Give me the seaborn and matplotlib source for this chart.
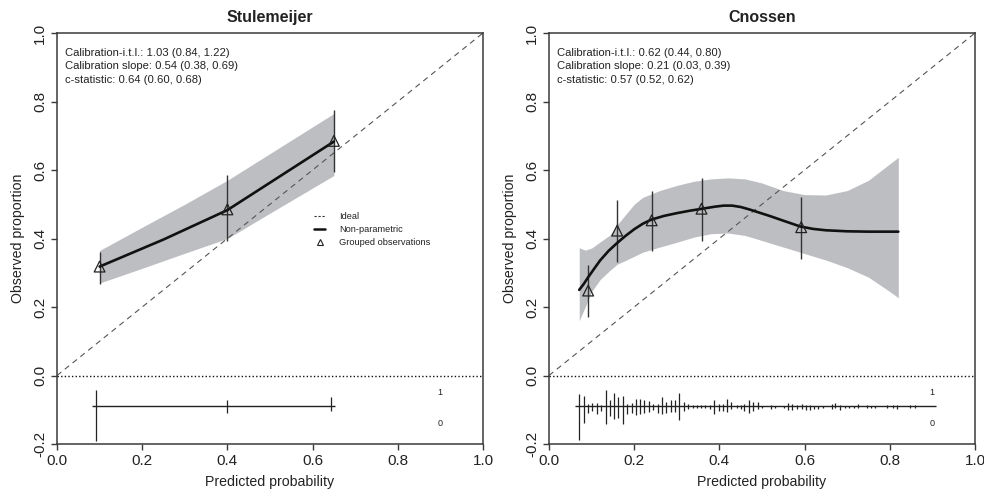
import numpy as np
import pandas as pd
import matplotlib
matplotlib.use("Agg")
import matplotlib.pyplot as plt
import seaborn as sns
from matplotlib.lines import Line2D

# ---------------- data ----------------
titles = ["Stulemeijer", "Cnossen"]
stats_L = ["Calibration-i.t.l.: 1.03 (0.84, 1.22)",
           "Calibration slope: 0.54 (0.38, 0.69)",
           "c-statistic: 0.64 (0.60, 0.68)"]
stats_R = ["Calibration-i.t.l.: 0.62 (0.44, 0.80)",
           "Calibration slope: 0.21 (0.03, 0.39)",
           "c-statistic: 0.57 (0.52, 0.62)"]

# Stulemeijer
curve_x_L = [0.10, 0.25, 0.40, 0.65]
curve_y_L = [0.318, 0.397, 0.483, 0.683]
band_x_L = [0.10, 0.20, 0.30, 0.40, 0.50, 0.65]
band_lo_L = [0.270, 0.313, 0.357, 0.400, 0.474, 0.584]
band_hi_L = [0.365, 0.433, 0.500, 0.570, 0.648, 0.765]
grp_x_L = [0.10, 0.40, 0.65]
grp_y_L = [0.318, 0.485, 0.685]
grp_lo_L = [0.268, 0.392, 0.593]
grp_hi_L = [0.360, 0.584, 0.776]
rug_x_L = [0.092, 0.400, 0.643]
rug_one_L = [0.047, 0.018, 0.029]
rug_zero_L = [0.101, 0.020, 0.014]
rug_span_L = [0.082, 0.653]

# Cnossen
curve_x_R = [0.071, 0.082, 0.092, 0.105, 0.12, 0.14, 0.16, 0.18, 0.20, 0.22,
             0.24, 0.27, 0.30, 0.33, 0.36, 0.39, 0.41, 0.43, 0.45, 0.47,
             0.49, 0.52, 0.55, 0.59, 0.62, 0.65, 0.70, 0.75, 0.82]
curve_y_R = [0.250, 0.268, 0.287, 0.310, 0.336, 0.364, 0.387, 0.408, 0.427,
             0.443, 0.455, 0.466, 0.474, 0.481, 0.487, 0.493, 0.496, 0.496,
             0.492, 0.485, 0.477, 0.465, 0.452, 0.435, 0.428, 0.424, 0.421,
             0.420, 0.420]
band_x_R = [0.071, 0.085, 0.10, 0.12, 0.143, 0.16, 0.18, 0.20, 0.22, 0.26,
            0.30, 0.34, 0.38, 0.42, 0.46, 0.50, 0.55, 0.60, 0.65, 0.70,
            0.75, 0.80, 0.82]
band_hi_R = [0.373, 0.366, 0.372, 0.390, 0.410, 0.440, 0.470, 0.500, 0.520,
             0.540, 0.555, 0.567, 0.574, 0.577, 0.574, 0.562, 0.540, 0.528,
             0.527, 0.540, 0.570, 0.618, 0.637]
band_lo_R = [0.160, 0.200, 0.245, 0.280, 0.307, 0.325, 0.336, 0.348, 0.360,
             0.375, 0.389, 0.404, 0.414, 0.416, 0.409, 0.394, 0.375, 0.356,
             0.337, 0.315, 0.287, 0.245, 0.227]
grp_x_R = [0.092, 0.160, 0.241, 0.358, 0.592]
grp_y_R = [0.248, 0.423, 0.453, 0.487, 0.433]
grp_lo_R = [0.170, 0.331, 0.363, 0.394, 0.341]
grp_hi_R = [0.324, 0.511, 0.540, 0.577, 0.520]
rug_x_R = [0.071, 0.082, 0.092, 0.102, 0.112, 0.122, 0.133, 0.143, 0.153,
           0.163, 0.173, 0.184, 0.194, 0.204, 0.214, 0.224, 0.235, 0.245,
           0.255, 0.265, 0.275, 0.286, 0.296, 0.306, 0.316, 0.326, 0.337,
           0.347, 0.357, 0.367, 0.377, 0.388, 0.398, 0.408, 0.418, 0.428,
           0.441, 0.451, 0.458, 0.469, 0.480, 0.490, 0.500, 0.520, 0.531,
           0.552, 0.562, 0.571, 0.582, 0.593, 0.603, 0.613, 0.623, 0.632,
           0.644, 0.664, 0.671, 0.683, 0.695, 0.705, 0.716, 0.726, 0.746,
           0.755, 0.765, 0.794, 0.807, 0.818, 0.847, 0.859]
rug_one_R = [0.037, 0.032, 0.008, 0.010, 0.010, 0.005, 0.047, 0.018, 0.039,
             0.029, 0.032, 0.008, 0.010, 0.022, 0.022, 0.018, 0.015, 0.008,
             0.008, 0.027, 0.013, 0.018, 0.018, 0.039, 0.013, 0.006, 0.003,
             0.003, 0.003, 0.003, 0.004, 0.018, 0.008, 0.008, 0.022, 0.013,
             0.004, 0.004, 0.007, 0.019, 0.012, 0.012, 0.002, 0.004, 0.002,
             0.002, 0.010, 0.006, 0.004, 0.007, 0.004, 0.004, 0.002, 0.002,
             0.002, 0.007, 0.010, 0.004, 0.002, 0.002, 0.002, 0.006, 0.004,
             0.002, 0.002, 0.004, 0.004, 0.004, 0.004, 0.004]
rug_zero_R = [0.099, 0.049, 0.019, 0.012, 0.021, 0.012, 0.051, 0.029, 0.036,
              0.033, 0.051, 0.021, 0.019, 0.024, 0.021, 0.019, 0.015, 0.010,
              0.019, 0.023, 0.019, 0.017, 0.015, 0.039, 0.014, 0.007, 0.004,
              0.004, 0.004, 0.004, 0.006, 0.021, 0.012, 0.014, 0.015, 0.007,
              0.004, 0.008, 0.013, 0.018, 0.013, 0.008, 0.003, 0.006, 0.004,
              0.003, 0.010, 0.010, 0.008, 0.006, 0.010, 0.010, 0.008, 0.006,
              0.003, 0.006, 0.004, 0.010, 0.004, 0.004, 0.004, 0.004, 0.004,
              0.004, 0.005, 0.004, 0.004, 0.008, 0.004, 0.004]
rug_span_R = [0.062, 0.908]

xticks = [0.0, 0.2, 0.4, 0.6, 0.8, 1.0]
yticks = [-0.2, 0.0, 0.2, 0.4, 0.6, 0.8, 1.0]
tick_labels_x = ["0.0", "0.2", "0.4", "0.6", "0.8", "1.0"]
tick_labels_y = ["-0.2", "0.0", "0.2", "0.4", "0.6", "0.8", "1.0"]
legend_labels = ["Ideal", "Non-parametric", "Grouped observations"]

# ---------------- style ----------------
sns.set_theme(style="white")
plt.rcParams['font.family'] = ['Liberation Sans', 'DejaVu Sans']
plt.rcParams['text.color'] = '#222222'
plt.rcParams['axes.labelcolor'] = '#222222'

BAND = '#bdbec1'
EDGE = '#3a3a3a'

fig = plt.figure(figsize=(9.84, 4.92), dpi=100)
W, H = 984, 492
axL = fig.add_axes([57 / W, 1 - 444 / H, 426 / W, 411 / H])
axR = fig.add_axes([549 / W, 1 - 444 / H, 426 / W, 411 / H])

panels = [
    (axL, titles[0], stats_L, curve_x_L, curve_y_L, band_x_L, band_lo_L, band_hi_L,
     grp_x_L, grp_y_L, grp_lo_L, grp_hi_L, rug_x_L, rug_one_L, rug_zero_L, rug_span_L),
    (axR, titles[1], stats_R, curve_x_R, curve_y_R, band_x_R, band_lo_R, band_hi_R,
     grp_x_R, grp_y_R, grp_lo_R, grp_hi_R, rug_x_R, rug_one_R, rug_zero_R, rug_span_R),
]

rug_base = -0.0905
for (ax, title, stats, cx, cy, bx, blo, bhi, gx, gy, glo, ghi,
     rx, r1, r0, rspan) in panels:
    ax.fill_between(bx, blo, bhi, color=BAND, lw=0, zorder=1)
    ax.plot([0, 1], [0, 1], color='#555555', lw=0.8, ls=(0, (5, 4)), zorder=2)
    ax.axhline(0, color='#111111', lw=1.0, ls=(0, (1, 1.6)), zorder=2)
    df = pd.DataFrame({"x": cx, "y": cy})
    sns.lineplot(data=df, x="x", y="y", ax=ax, color='#111111', lw=1.9,
                 sort=False, zorder=4)
    ax.vlines(gx, glo, ghi, color='#333333', lw=1.0, zorder=3)
    gdf = pd.DataFrame({"x": gx, "y": gy})
    sns.scatterplot(data=gdf, x="x", y="y", ax=ax, marker='^', s=60,
                    facecolor='none', edgecolor='#222222', linewidth=0.9, zorder=5)
    # rug
    ax.hlines(rug_base, rspan[0], rspan[1], color='#222222', lw=1.0, zorder=3)
    rx = np.asarray(rx)
    ax.vlines(rx, rug_base, rug_base + np.asarray(r1), color='#222222', lw=0.9, zorder=3)
    ax.vlines(rx, rug_base - np.asarray(r0), rug_base, color='#222222', lw=0.9, zorder=3)
    ax.text(0.899, -0.049, "1", fontsize=6.5, ha='center', va='center')
    ax.text(0.899, -0.139, "0", fontsize=6.5, ha='center', va='center')
    # stats text
    for i, s in enumerate(stats):
        ax.text(0.019, 0.943 - 0.040 * i, s, fontsize=8.15, ha='left', va='center')

    ax.set_xlim(0, 1)
    ax.set_ylim(-0.2, 1.0)
    ax.set_xticks(xticks)
    ax.set_xticklabels(tick_labels_x)
    ax.set_yticks(yticks)
    ax.set_yticklabels(tick_labels_y, rotation=90, va='center')
    ax.tick_params(axis='both', direction='out', length=4, width=1.0,
                   color=EDGE, labelsize=11, labelcolor='#222222', pad=3,
                   bottom=True, left=True)
    for sp in ax.spines.values():
        sp.set_color(EDGE)
        sp.set_linewidth(1.1)
    ax.set_xlabel("Predicted probability", fontsize=10.2, labelpad=5)
    ax.set_ylabel("Observed proportion", fontsize=10.2, labelpad=6)
    ax.set_title(title, fontweight='bold', fontsize=11.5, pad=8)

handles = [Line2D([], [], color='#333333', lw=0.8, ls=(0, (2, 1.6))),
           Line2D([], [], color='#111111', lw=1.8),
           Line2D([], [], ls='none', marker='^', markersize=5,
                  markerfacecolor='none', markeredgecolor='#222222', markeredgewidth=0.8)]
axL.legend(handles, legend_labels, loc='upper left', bbox_to_anchor=(0.604, 0.565),
           frameon=False, fontsize=6.7, handlelength=1.2, handletextpad=1.5,
           labelspacing=0.45, borderpad=0, borderaxespad=0)

fig.savefig("out.png", dpi=100)
